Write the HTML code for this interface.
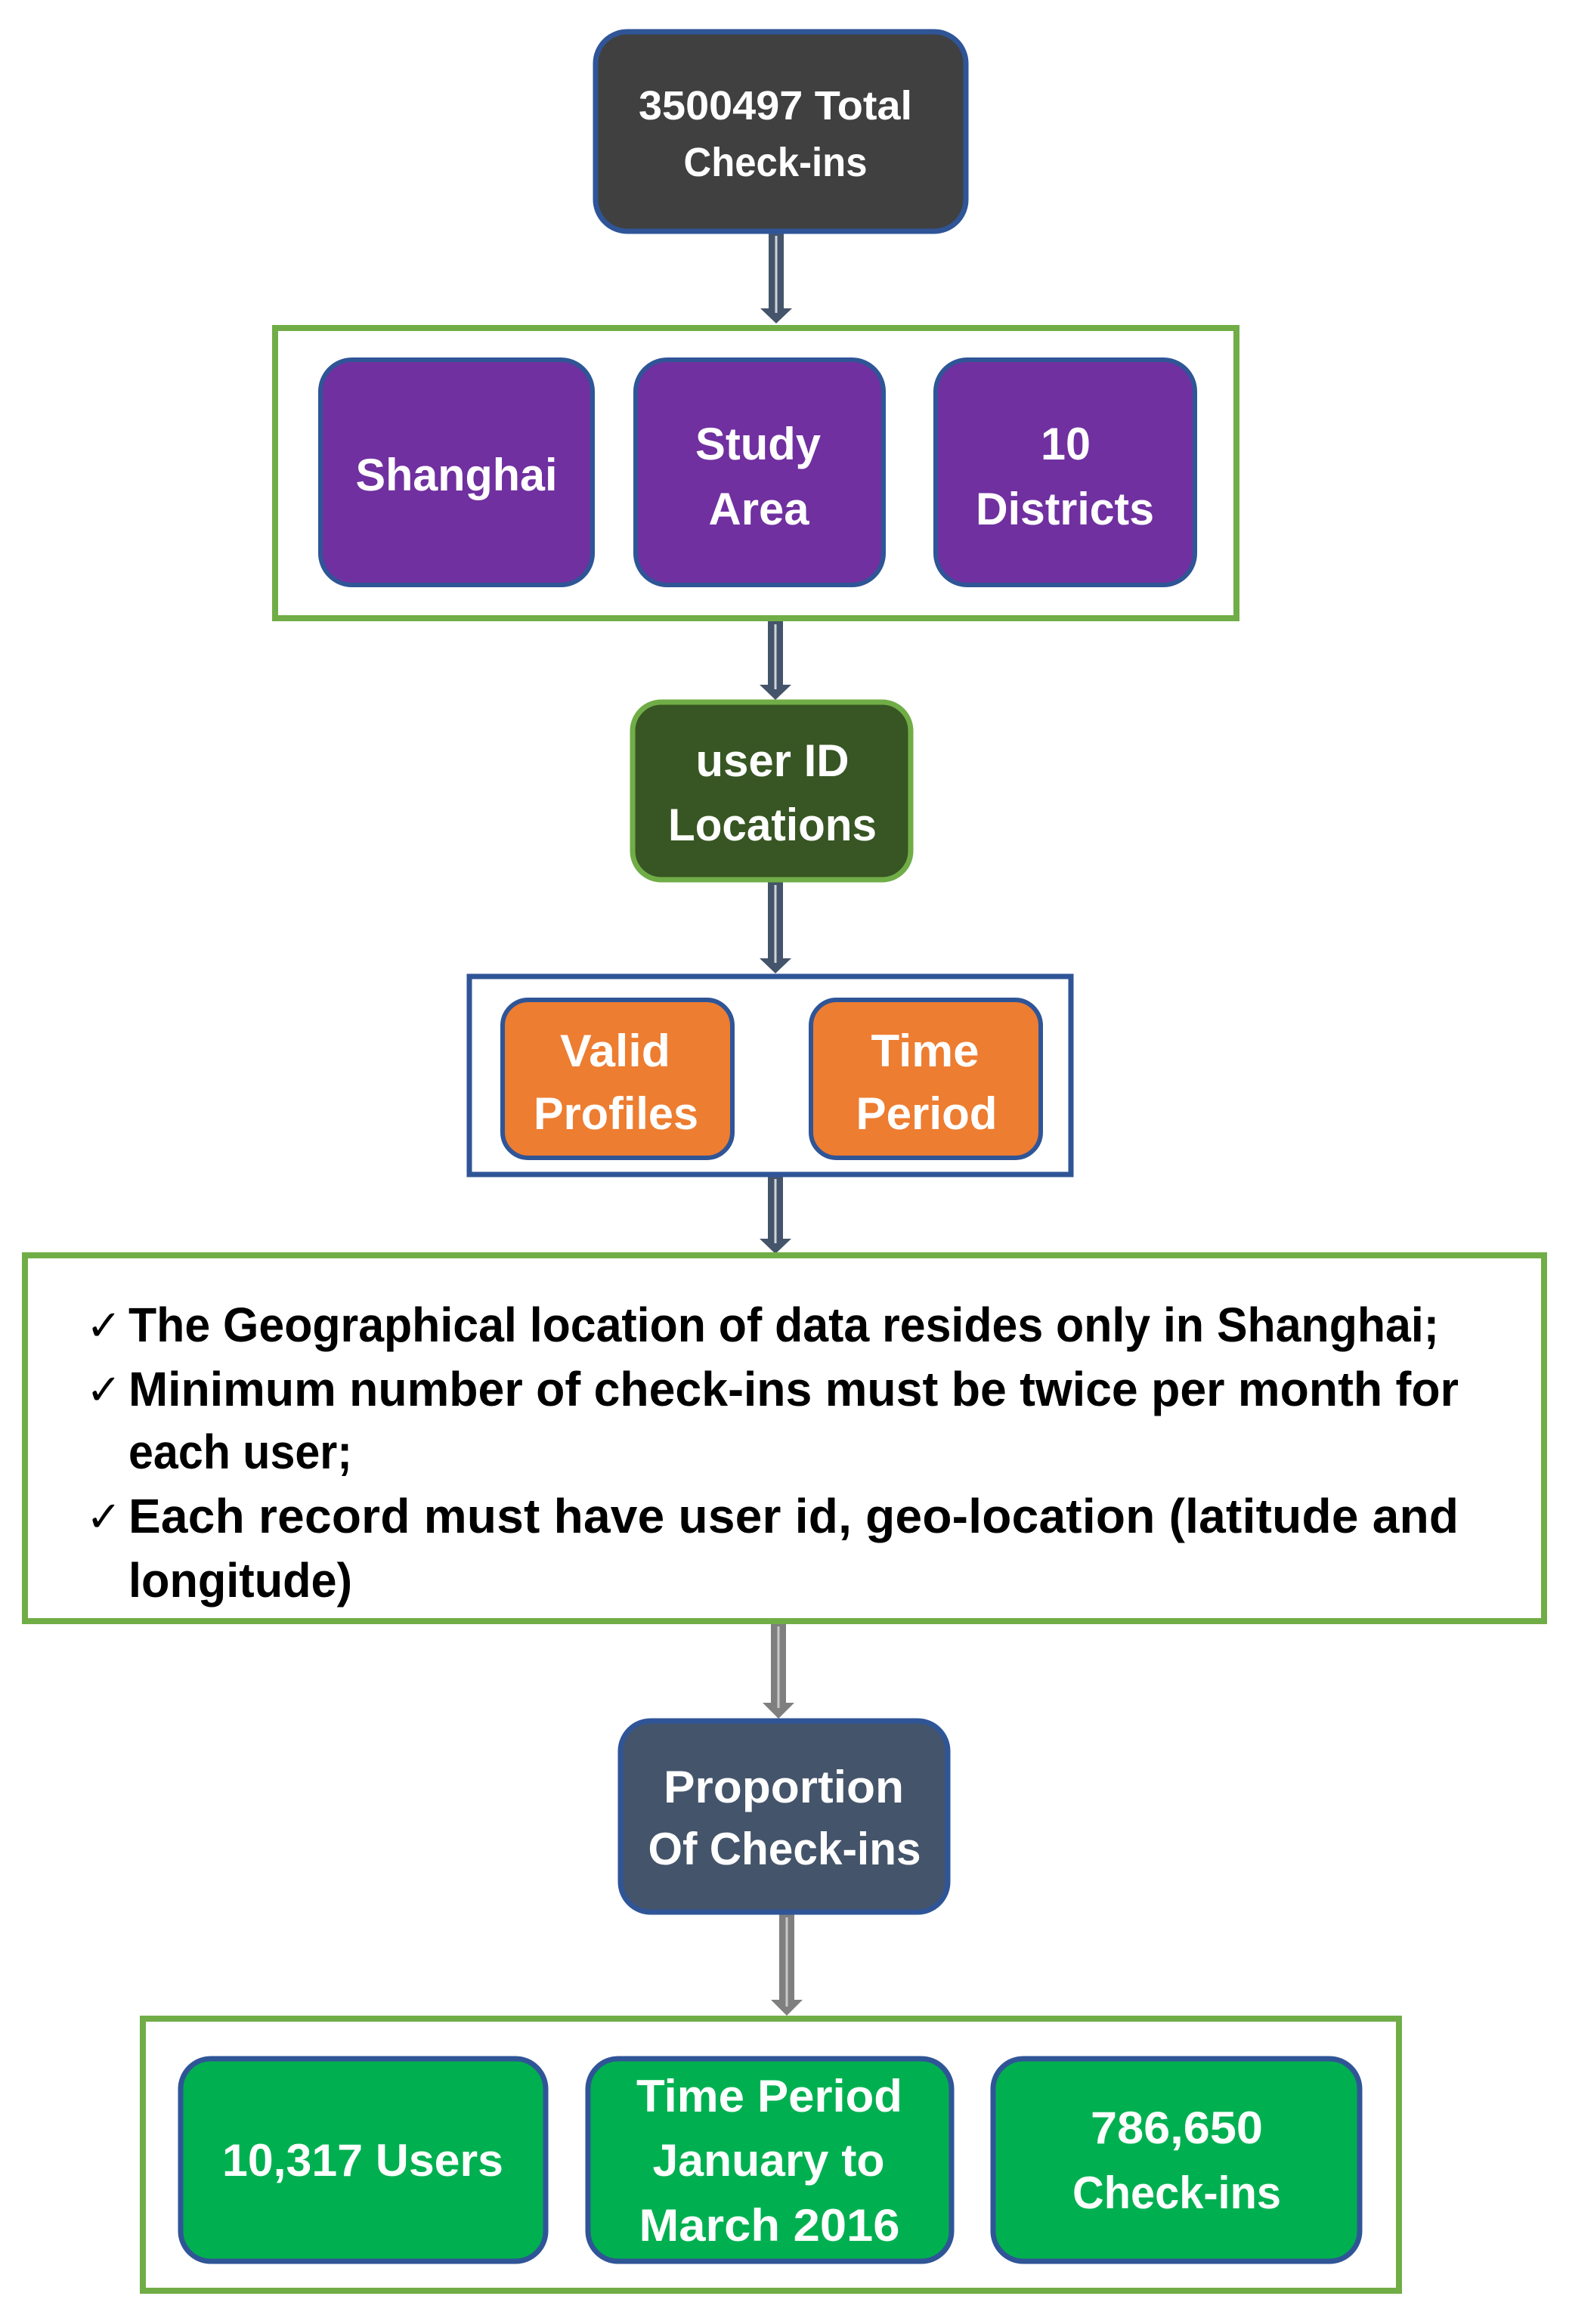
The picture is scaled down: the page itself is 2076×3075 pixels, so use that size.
<!DOCTYPE html>
<html><head><meta charset="utf-8"><style>
html,body{margin:0;padding:0;background:#fff;}
svg{display:block;}
text{font-family:"Liberation Sans",sans-serif;font-weight:bold;}
.w{fill:#fff;font-size:60px;}
.b{fill:#000;font-size:64px;}
</style></head><body>
<svg width="2076" height="3075" viewBox="0 0 2076 3075" xmlns="http://www.w3.org/2000/svg">
<defs>
<g id="arr">
<rect x="-10" y="0" width="20" height="1" />
</g>
</defs>
<!-- arrows -->
<g fill="#44546a">
  <path d="M1017 305 h20 v103 h11 l-21 20 l-21 -20 h11 z"/>
  <path d="M1016 820 h20 v86 h11 l-21 20 l-21 -20 h11 z"/>
  <path d="M1016 1165 h20 v103 h11 l-21 20 l-21 -20 h11 z"/>
  <path d="M1016 1556 h20 v83 h11 l-21 20 l-21 -20 h11 z"/>
</g>
<g fill="#7f7f7f">
  <path d="M1020 2147 h20 v106 h11 l-21 21 l-21 -21 h11 z"/>
  <path d="M1031 2531 h20 v115 h11 l-21 21 l-21 -21 h11 z"/>
</g>
<g stroke="#d0d4da" stroke-width="3">
  <line x1="1027" y1="312" x2="1027" y2="414"/>
  <line x1="1026" y1="826" x2="1026" y2="912"/>
  <line x1="1026" y1="1171" x2="1026" y2="1274"/>
  <line x1="1026" y1="1560" x2="1026" y2="1645"/>
  <line x1="1030" y1="2152" x2="1030" y2="2260" stroke="#c8c8c8"/>
  <line x1="1041" y1="2537" x2="1041" y2="2655" stroke="#c8c8c8"/>
</g>
<!-- containers -->
<rect x="364" y="434" width="1272" height="384" fill="none" stroke="#70ad47" stroke-width="8"/>
<rect x="621" y="1292" width="796" height="262" fill="none" stroke="#2f5597" stroke-width="7"/>
<rect x="33" y="1661" width="2010" height="484" fill="none" stroke="#70ad47" stroke-width="8"/>
<rect x="189" y="2671" width="1662" height="360" fill="none" stroke="#70ad47" stroke-width="8"/>
<!-- boxes -->
<rect x="788" y="42" width="490" height="264" rx="42" fill="#404040" stroke="#2f5597" stroke-width="7"/>
<rect x="424" y="476" width="360" height="298" rx="42" fill="#7030a0" stroke="#2f5597" stroke-width="6"/>
<rect x="841" y="476" width="328" height="298" rx="42" fill="#7030a0" stroke="#2f5597" stroke-width="6"/>
<rect x="1238" y="476" width="343" height="298" rx="42" fill="#7030a0" stroke="#2f5597" stroke-width="6"/>
<rect x="837" y="929" width="368" height="235" rx="38" fill="#375623" stroke="#70ad47" stroke-width="7"/>
<rect x="665" y="1323" width="304" height="209" rx="34" fill="#ed7d31" stroke="#2f5597" stroke-width="6"/>
<rect x="1073" y="1323" width="304" height="209" rx="34" fill="#ed7d31" stroke="#2f5597" stroke-width="6"/>
<rect x="821" y="2277" width="433" height="253" rx="40" fill="#44546a" stroke="#2f5597" stroke-width="7"/>
<rect x="239" y="2724" width="483" height="268" rx="40" fill="#00b050" stroke="#2f5597" stroke-width="7"/>
<rect x="778" y="2724" width="481" height="268" rx="40" fill="#00b050" stroke="#2f5597" stroke-width="7"/>
<rect x="1314" y="2724" width="485" height="268" rx="40" fill="#00b050" stroke="#2f5597" stroke-width="7"/>
<!-- box text -->
<g class="w" text-anchor="middle">
<text x="1026" y="158" font-size="54" textLength="362" lengthAdjust="spacingAndGlyphs">3500497 Total</text>
<text x="1026" y="233" font-size="54" textLength="243" lengthAdjust="spacingAndGlyphs">Check-ins</text>
<text x="604" y="649" textLength="267" lengthAdjust="spacingAndGlyphs">Shanghai</text>
<text x="1003" y="608" textLength="166" lengthAdjust="spacingAndGlyphs">Study</text>
<text x="1004" y="694" textLength="133" lengthAdjust="spacingAndGlyphs">Area</text>
<text x="1410" y="608" textLength="66" lengthAdjust="spacingAndGlyphs">10</text>
<text x="1409" y="694" textLength="236" lengthAdjust="spacingAndGlyphs">Districts</text>
<text x="1022" y="1027" textLength="203" lengthAdjust="spacingAndGlyphs">user ID</text>
<text x="1022" y="1112" textLength="276" lengthAdjust="spacingAndGlyphs">Locations</text>
<text x="814" y="1411" textLength="146" lengthAdjust="spacingAndGlyphs">Valid</text>
<text x="815" y="1494" textLength="218" lengthAdjust="spacingAndGlyphs">Profiles</text>
<text x="1224" y="1411" textLength="143" lengthAdjust="spacingAndGlyphs">Time</text>
<text x="1226" y="1494" textLength="187" lengthAdjust="spacingAndGlyphs">Period</text>
<text x="1037" y="2385" textLength="318" lengthAdjust="spacingAndGlyphs">Proportion</text>
<text x="1038" y="2467" textLength="361" lengthAdjust="spacingAndGlyphs">Of Check-ins</text>
<text x="480" y="2879" textLength="372" lengthAdjust="spacingAndGlyphs">10,317 Users</text>
<text x="1018" y="2794" textLength="352" lengthAdjust="spacingAndGlyphs">Time Period</text>
<text x="1017" y="2879" textLength="307" lengthAdjust="spacingAndGlyphs">January to</text>
<text x="1018" y="2965" textLength="345" lengthAdjust="spacingAndGlyphs">March 2016</text>
<text x="1557" y="2836" textLength="228" lengthAdjust="spacingAndGlyphs">786,650</text>
<text x="1557" y="2922" textLength="276" lengthAdjust="spacingAndGlyphs">Check-ins</text>
</g>
<!-- criteria text -->
<g class="b">
<text x="114" y="1773" font-size="56" font-weight="normal" style="font-family:'DejaVu Sans',sans-serif">✓</text>
<text x="170" y="1775" textLength="1734" lengthAdjust="spacingAndGlyphs">The Geographical location of data resides only in Shanghai;</text>
<text x="114" y="1858" font-size="56" font-weight="normal" style="font-family:'DejaVu Sans',sans-serif">✓</text>
<text x="170" y="1860" textLength="1760" lengthAdjust="spacingAndGlyphs">Minimum number of check-ins must be twice per month for</text>
<text x="170" y="1943" textLength="296" lengthAdjust="spacingAndGlyphs">each user;</text>
<text x="114" y="2026" font-size="56" font-weight="normal" style="font-family:'DejaVu Sans',sans-serif">✓</text>
<text x="170" y="2028" textLength="1760" lengthAdjust="spacing">Each record must have user id, geo-location (latitude and</text>
<text x="170" y="2113" textLength="296" lengthAdjust="spacingAndGlyphs">longitude)</text>
</g>
</svg>
</body></html>
